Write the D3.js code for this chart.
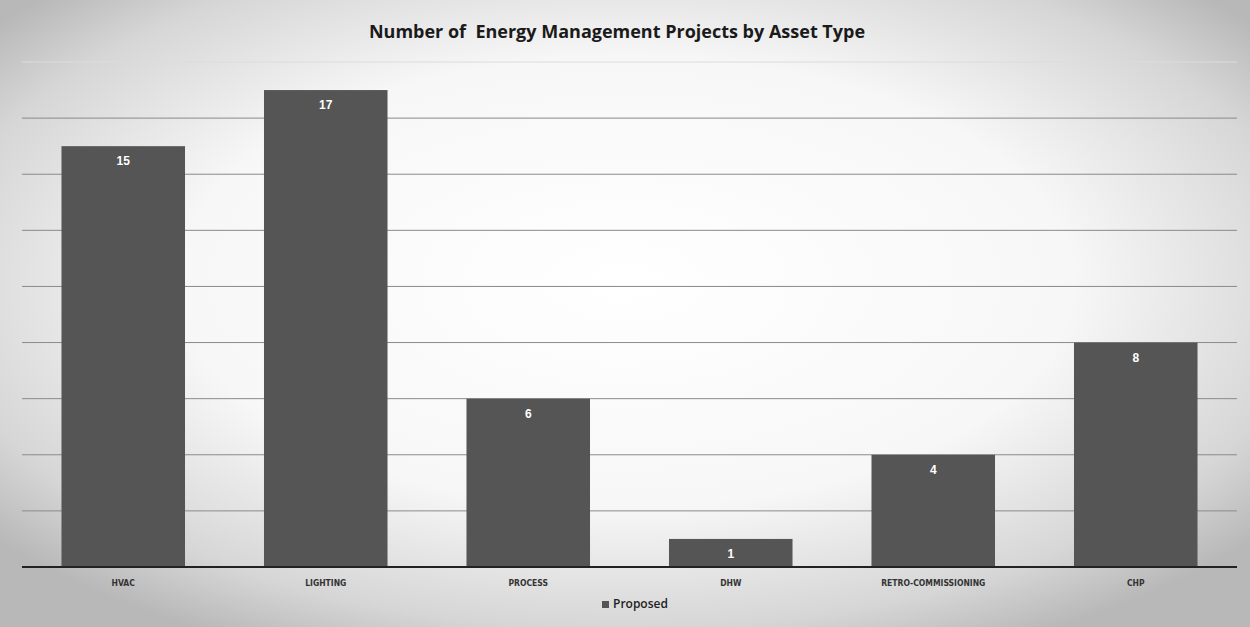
<!DOCTYPE html>
<html lang="en">
<head>
<meta charset="UTF-8">
<title>Number of Energy Management Projects by Asset Type</title>
<script src="https://d3js.org/d3.v7.min.js"></script>
<style>
  body { margin: 0; background: #fff; }
  svg { display: block; }
</style>
</head>
<body>
<div id="chart"></div>
<script>
// data
const categories = ["HVAC", "LIGHTING", "PROCESS", "DHW", "RETRO-COMMISSIONING", "CHP"];
const proposed = [15, 17, 6, 1, 4, 8];
const yTicks = [0, 2, 4, 6, 8, 10, 12, 14, 16, 18];
const seriesName = "Proposed";
const chartTitle = "Number of  Energy Management Projects by Asset Type";

const W = 1250, H = 627;
const margin = { top: 62, right: 13, bottom: 60, left: 22 };

const svg = d3.select("#chart").append("svg")
    .attr("width", W)
    .attr("height", H);

// scanned-paper look: grey at the edges, white in the middle
const defs = svg.append("defs");
const grad = defs.append("radialGradient")
    .attr("id", "bg")
    .attr("cx", "50%").attr("cy", "45%").attr("r", "65%");
grad.append("stop").attr("offset", "0%").attr("stop-color", "#ffffff");
grad.append("stop").attr("offset", "55%").attr("stop-color", "#f7f7f7");
grad.append("stop").attr("offset", "85%").attr("stop-color", "#d6d6d6");
grad.append("stop").attr("offset", "100%").attr("stop-color", "#b8b8b8");

svg.append("rect")
    .attr("width", W).attr("height", H)
    .attr("fill", "url(#bg)");

const x = d3.scaleBand()
    .domain(categories)
    .range([margin.left, W - margin.right])
    .paddingInner(0.39)
    .paddingOuter(0.195);

const y = d3.scaleLinear()
    .domain([0, 18])
    .range([H - margin.bottom, margin.top]);

// horizontal gridlines
svg.append("g")
    .selectAll("line")
    .data(yTicks.filter(d => d > 0))
    .join("line")
    .attr("x1", margin.left)
    .attr("x2", W - margin.right)
    .attr("y1", d => y(d))
    .attr("y2", d => y(d))
    .attr("stroke", d => d === 18 ? "#dcdcdc" : "#8a8a8a")
    .attr("stroke-width", 1);

// bars
svg.append("g")
    .selectAll("rect")
    .data(proposed)
    .join("rect")
    .attr("x", (d, i) => x(categories[i]))
    .attr("y", d => y(d))
    .attr("width", x.bandwidth())
    .attr("height", d => y(0) - y(d))
    .attr("fill", "#555555");

// value labels
svg.append("g")
    .selectAll("text")
    .data(proposed)
    .join("text")
    .attr("x", (d, i) => x(categories[i]) + x.bandwidth() / 2)
    .attr("y", d => y(d) + 19)
    .attr("text-anchor", "middle")
    .attr("font-family", "'Liberation Sans', Arial, sans-serif")
    .attr("font-weight", "bold")
    .attr("font-size", 12)
    .attr("fill", "#ffffff")
    .text(d => d);

// x axis
const xAxis = svg.append("g")
    .attr("transform", `translate(0,${y(0)})`)
    .call(d3.axisBottom(x).tickSize(0).tickPadding(13));
xAxis.select(".domain")
    .attr("stroke", "#222")
    .attr("stroke-width", 2)
    .attr("d", `M${margin.left},0H${W - margin.right}`);
xAxis.selectAll("text")
    .attr("font-family", "'Liberation Sans Narrow', 'DejaVu Sans Condensed', sans-serif")
    .attr("font-weight", "bold")
    .attr("font-size", 8.5)
    .attr("fill", "#333");

// title
svg.append("text")
    .attr("x", 617)
    .attr("y", 38)
    .attr("text-anchor", "middle")
    .attr("font-family", "'Open Sans', 'Liberation Sans', sans-serif")
    .attr("font-weight", "bold")
    .attr("font-size", 18)
    .attr("fill", "#1a1a1a")
    .style("white-space", "pre")
    .text(chartTitle);

// legend
const legend = svg.append("g")
    .attr("transform", "translate(602,608)");
legend.append("rect")
    .attr("x", 0).attr("y", -7)
    .attr("width", 7).attr("height", 7)
    .attr("fill", "#555555");
legend.append("text")
    .attr("x", 11)
    .attr("y", 0)
    .attr("font-family", "'Open Sans', 'Liberation Sans', sans-serif")
    .attr("font-weight", 600)
    .attr("font-size", 12)
    .attr("fill", "#222")
    .text(seriesName);
</script>
</body>
</html>
